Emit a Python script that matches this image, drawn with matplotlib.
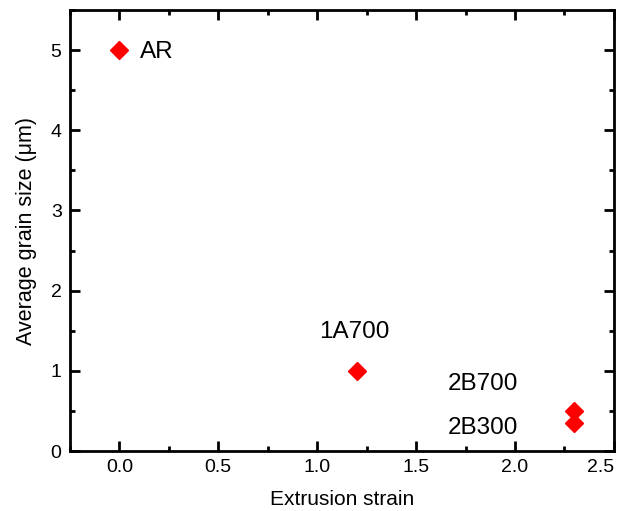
import matplotlib
matplotlib.use('Agg')
import matplotlib.pyplot as plt
from matplotlib.ticker import MultipleLocator

strain = [0.0, 1.2, 2.3, 2.3]
grain = [5.0, 1.0, 0.5, 0.35]
names = ['AR', '1A700', '2B700', '2B300']
# where each name sits, in data units
label_x = [0.105, 1.19, 1.66, 1.66]
label_y = [4.98, 1.48, 0.83, 0.29]
label_ha = ['left', 'center', 'left', 'left']
xticks = [0.0, 0.5, 1.0, 1.5, 2.0, 2.5]
xtick_labels = ['0.0', '0.5', '1.0', '1.5', '2.0', '2.5']

plt.rcParams['font.family'] = ['Liberation Sans', 'DejaVu Sans']

fig = plt.figure(figsize=(6.3, 5.11), dpi=100)
ax = fig.add_axes([0.111, 0.1174, 0.8635, 0.863])
ax.plot(strain, grain, 'D', color='red', markersize=8.7, linestyle='none')

for s, x, y, ha in zip(names, label_x, label_y, label_ha):
    ax.text(x, y, s, ha=ha, va='center', fontsize=17.5)

ax.set_xlim(-0.25, 2.5)
ax.set_ylim(0, 5.5)
ax.set_xticks(xticks, xtick_labels)
ax.xaxis.set_minor_locator(MultipleLocator(0.25))
ax.yaxis.set_major_locator(MultipleLocator(1))
ax.yaxis.set_minor_locator(MultipleLocator(0.5))
ax.tick_params(which='both', direction='in', top=True, right=True, width=2,
               labelsize=14)
ax.tick_params(which='major', length=7, pad=6)
ax.tick_params(which='minor', length=3.5)
for sp in ax.spines.values():
    sp.set_linewidth(2)
ax.set_xlabel('Extrusion strain', fontsize=15, labelpad=10)
ax.set_ylabel('Average grain size (\u03bcm)', fontsize=15.5, labelpad=10)

# last x label sits flush with the right spine
for lab in ax.get_xticklabels():
    if lab.get_text() == '2.5':
        lab.set_ha('right')

fig.savefig('out.png', dpi=100)
